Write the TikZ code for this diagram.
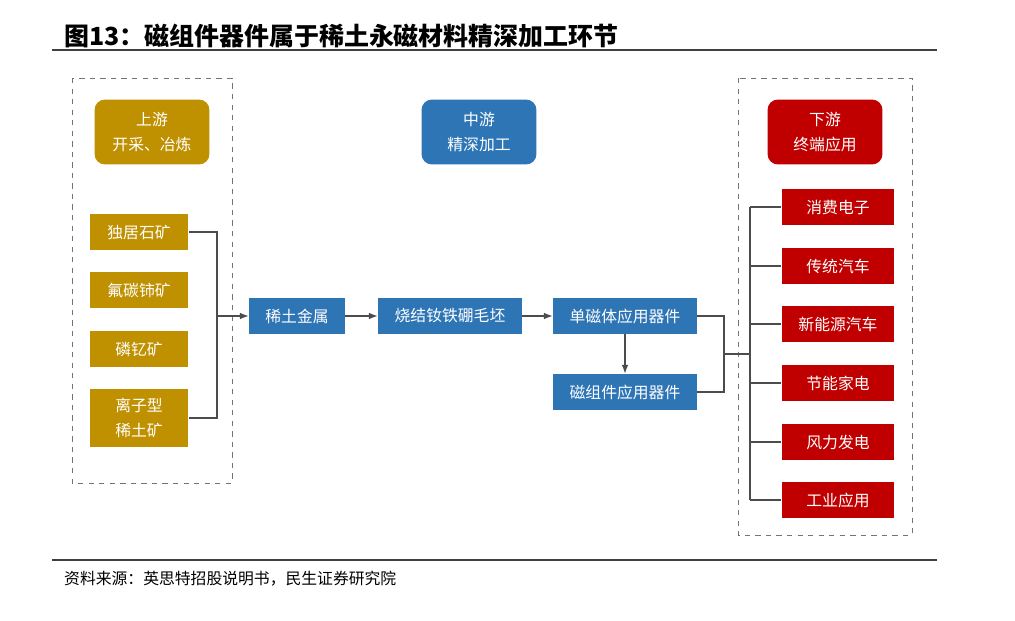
\documentclass[tikz,border=0pt]{standalone}
\usepackage{fontspec}
\setmainfont{Noto Sans CJK SC}
\usetikzlibrary{arrows.meta, positioning}
\definecolor{upgold}{RGB}{191,144,0}
\definecolor{midblue}{RGB}{46,117,182}
\definecolor{downred}{RGB}{192,0,0}
\tikzset{
  hd/.style={rounded corners=6pt, text=white, minimum width=2.3cm, minimum height=1.3cm, align=center, font=\small\linespread{1.3}\selectfont, inner sep=1pt},
  ore/.style={fill=upgold, text=white, minimum width=1.98cm, minimum height=0.72cm, align=center, font=\small\linespread{1.3}\selectfont, inner sep=1pt},
  mid/.style={fill=midblue, text=white, minimum height=0.72cm, align=center, font=\small, inner sep=1pt},
  app/.style={fill=downred, text=white, minimum width=2.26cm, minimum height=0.72cm, font=\small, inner sep=1pt},
  ln/.style={draw=black!70, line width=0.6pt},
  arr/.style={ln, -{Latex[length=5pt]}},
  dashbox/.style={draw=black!55, dashed, line width=0.5pt}
}
\begin{document}
\begin{tikzpicture}[x=0.02cm, y=-0.02cm]
		\useasboundingbox (0,0) rectangle (1015,621);
		\node(title) [anchor=west, font=\bfseries\fontsize{14.2pt}{17pt}\selectfont] at (58,36) {图13：磁组件器件属于稀土永磁材料精深加工环节};
		\draw[line width=1.6pt, black!75] (52,50) -- (937,50);
		\draw[line width=1.2pt, black!75] (52,560) -- (937,560);
		\node(src) [anchor=west, font=\small] at (58,579) {资料来源：英思特招股说明书，民生证券研究院};

		\draw[dashbox] (72,78) rectangle (232,483);
		\draw[dashbox] (738,78) rectangle (912,535);

		\node(up)  [hd, fill=upgold] at (152,132)  {上游\\开采、冶炼};
		\node(midh)  [hd, fill=midblue] at (479,132)  {中游\\精深加工};
		\node(down)  [hd, fill=downred] at (825,132)  {下游\\终端应用};

		\node(dujushi)  [ore] at (139,232)  {独居石矿};
		\node(futan)  [ore] at (139,290)  {氟碳铈矿};
		\node(linyi)  [ore] at (139,349)  {磷钇矿};
		\node(lizi)  [ore, minimum height=1.16cm] at (139,418)  {离子型\\稀土矿};

		\node(metal)  [mid, minimum width=1.92cm] at (297,316)  {稀土金属};
		\node(blank)  [mid, minimum width=2.88cm] at (450,316)  {烧结钕铁硼毛坯};
		\node(single)  [mid, minimum width=2.88cm] at (625,316)  {单磁体应用器件};
		\node(assem)  [mid, minimum width=2.88cm] at (625,392)  {磁组件应用器件};

		\node(a1)  [app] at (838,207)  {消费电子};
		\node(a2)  [app] at (838,266)  {传统汽车};
		\node(a3)  [app] at (838,324)  {新能源汽车};
		\node(a4)  [app] at (838,383)  {节能家电};
		\node(a5)  [app] at (838,442)  {风力发电};
		\node(a6)  [app] at (838,500)  {工业应用};

		\coordinate(oj) at (217,316);
		\draw[ln] (dujushi.east) -| (oj) |- (lizi.east);
		\draw[arr] (oj) -- (metal.west);
		\draw[arr] (metal) -- (blank);
		\draw[arr] (blank) -- (single);
		\draw[arr] (single) -- (assem);

		\coordinate(mj) at (724,354);
		\coordinate(bus) at (750,354);
		\draw[ln] (single.east) -| (mj) |- (assem.east);
		\draw[ln] (mj) -- (bus);
		\draw[ln] (750,207) -- (750,500);
		\foreach \a in {a1,a2,a3,a4,a5,a6}
			\draw[ln] (\a.west) -- (bus |- \a.west);
\end{tikzpicture}
\end{document}
